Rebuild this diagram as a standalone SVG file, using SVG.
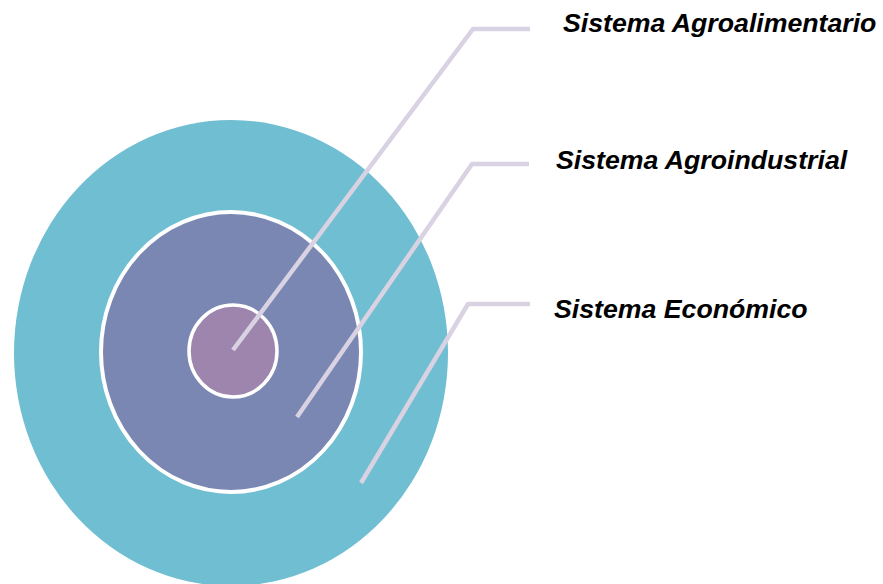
<svg xmlns="http://www.w3.org/2000/svg" width="883" height="584" viewBox="0 0 883 584">
<style>
.lbl{font-family:"Liberation Sans",Arial,sans-serif;font-size:26.7px;font-weight:bold;font-style:italic;fill:#000}
.con{fill:none;stroke:#d8d2e2;stroke-width:4.5;stroke-linejoin:round}
</style>
<rect width="883" height="584" fill="#fff"/>
<g id="sistema-economico">
<ellipse cx="231" cy="353" rx="217" ry="233" fill="#70bed1"/>
</g>
<g id="sistema-agroindustrial">
<ellipse cx="231" cy="352" rx="130" ry="140" fill="#7b87b3" stroke="#fff" stroke-width="4"/>
</g>
<g id="sistema-agroalimentario">
<ellipse cx="233" cy="351" rx="44" ry="46" fill="#9d85ad" stroke="#fff" stroke-width="3.5"/>
</g>
<g id="connectors">
<polyline class="con" points="233,350 473,29 530,29"/>
<polyline class="con" points="297,417 472,164 529,164"/>
<polyline class="con" points="361,483 468,304 530,304"/>
</g>
<g id="labels">
<text class="lbl" x="563" y="32">Sistema Agroalimentario</text>
<text class="lbl" x="556" y="169">Sistema Agroindustrial</text>
<text class="lbl" x="554" y="318">Sistema Económico</text>
</g>
</svg>
